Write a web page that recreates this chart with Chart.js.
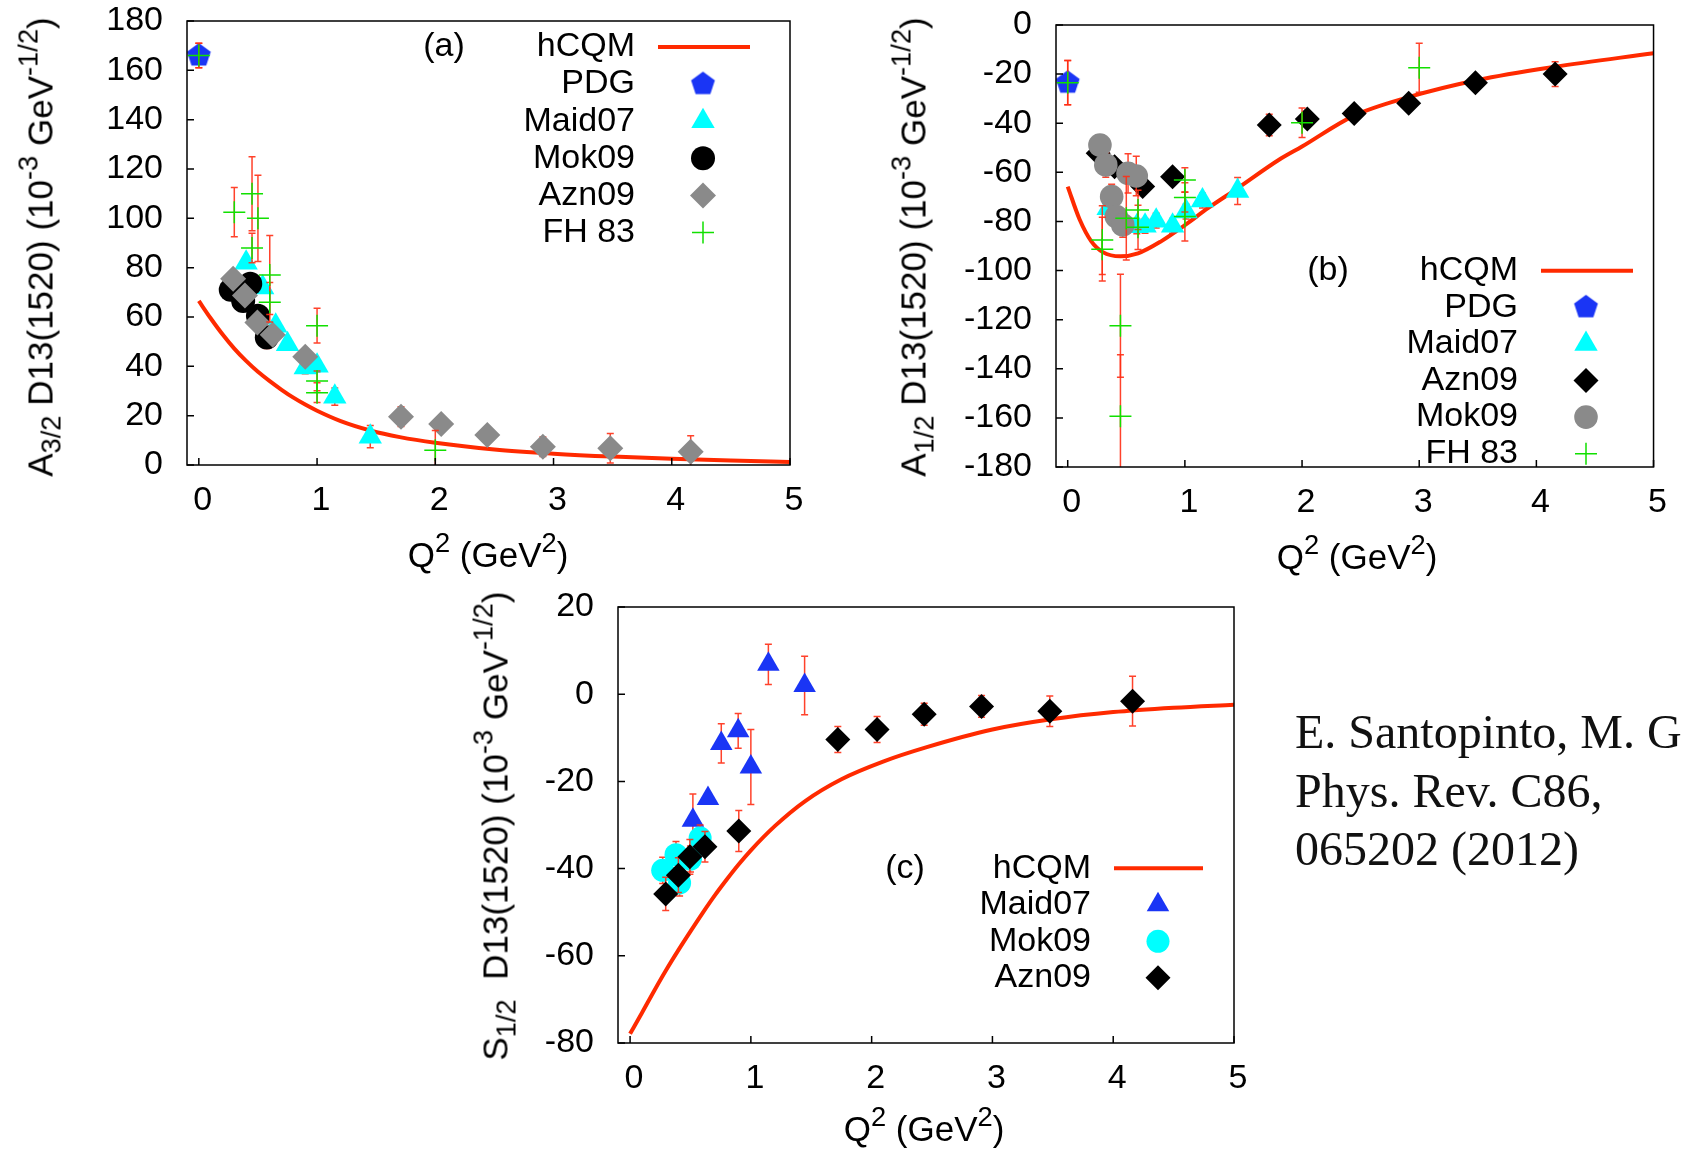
<!DOCTYPE html>
<html>
<head>
<meta charset="utf-8">
<title>D13(1520) helicity amplitudes</title>
<script src="https://cdn.jsdelivr.net/npm/chart.js"></script>
<style>
  html, body { margin: 0; padding: 0; background: #fff; }
  body { width: 1682px; height: 1149px; position: relative; overflow: hidden;
         font-family: 'Liberation Sans', Arial, sans-serif; color: #000; }
  canvas.panel { position: absolute; left: 0; top: -100px; }
  .ytitle, .xtitle { position: absolute; white-space: nowrap; font-size: 35px; line-height: 35px; }
  .ytitle { transform: translate(-50%, -50%) rotate(-90deg); }
  .xtitle { transform: translate(-50%, -50%); }
  sup, sub { font-size: 0.78em; line-height: 0; }
  sup { vertical-align: 0.55em; }
  sub { vertical-align: -0.3em; }
  .cite { position: absolute; left: 1295px; top: 703px; white-space: nowrap;
          font-family: 'Liberation Serif', 'Times New Roman', serif; font-size: 48px; line-height: 58.5px; color: #111; }
</style>
</head>
<body>
<!-- canvases start 100px above the page so the top padding never gets overridden -->
<canvas id="panelA" class="panel" width="1682" height="1249"></canvas>
<canvas id="panelB" class="panel" width="1682" height="1249"></canvas>
<canvas id="panelC" class="panel" width="1682" height="1249"></canvas>

<div class="ytitle" style="left:40px; top:247px">A<sub>3/2</sub> D13(1520) (10<sup>-3</sup> GeV<sup>-1/2</sup>)</div>
<div class="xtitle" style="left:488px; top:554px">Q<sup>2</sup> (GeV<sup>2</sup>)</div>
<div class="ytitle" style="left:913px; top:247px">A<sub>1/2</sub> D13(1520) (10<sup>-3</sup> GeV<sup>-1/2</sup>)</div>
<div class="xtitle" style="left:1357px; top:556px">Q<sup>2</sup> (GeV<sup>2</sup>)</div>
<div class="ytitle" style="left:495px; top:826px">S<sub>1/2</sub>&nbsp;&nbsp;D13(1520) (10<sup>-3</sup> GeV<sup>-1/2</sup>)</div>
<div class="xtitle" style="left:924px; top:1128px">Q<sup>2</sup> (GeV<sup>2</sup>)</div>

<div class="cite">E. Santopinto, M. G<br>Phys. Rev. C86,<br>065202 (2012)</div>

<script>
// ---- tick values ----
const q2Ticks = [0, 1, 2, 3, 4, 5];
const a32Ticks = [0, 20, 40, 60, 80, 100, 120, 140, 160, 180];
const a12Ticks = [-180, -160, -140, -120, -100, -80, -60, -40, -20, 0];
const s12Ticks = [-80, -60, -40, -20, 0, 20];

// ---- A3/2 ----
const a32HcqmQ2 = [0, 0.1, 0.2, 0.3, 0.4, 0.5, 0.6, 0.7, 0.8, 0.9, 1.0, 1.2, 1.45, 1.7, 2.0, 2.5, 3.0, 3.5, 4.0, 4.5, 5.0];
const a32Hcqm = [66.5, 59.5, 53, 47.2, 42.2, 37.8, 34, 30.5, 27.3, 24.5, 22, 17.8, 14, 11.3, 9, 6.3, 4.6, 3.4, 2.5, 1.8, 1.2];
const a32PdgQ2 = [0];
const a32Pdg = [166];
const a32PdgErr = [5];
const a32MaidQ2 = [0.40, 0.54, 0.65, 0.75, 0.90, 1.00, 1.15, 1.45];
const a32Maid = [82, 72, 56.5, 49, 39.5, 40.2, 27.7, 11.5];
const a32MaidErr = [2, 2, 2, 2, 2.5, 2.5, 3.5, 4.5];
const a32MokQ2 = [0.27, 0.375, 0.435, 0.50, 0.575];
const a32Mok = [71, 66.5, 73.5, 60.5, 51.7];
const a32MokErr = [3, 3, 3, 4, 4.5];
const a32AznQ2 = [0.29, 0.39, 0.495, 0.625, 0.90, 1.71, 2.05, 2.44, 2.91, 3.48, 4.16];
const a32Azn = [75.5, 68.7, 57.8, 52.8, 43.9, 19.6, 16.6, 12.2, 7.4, 6.8, 5.4];
const a32AznErr = [3, 3, 3, 3, 3, 4, 2.5, 2, 4, 6, 6.5];
const a32FhQ2 = [0, 0.30, 0.45, 0.45, 0.50, 0.60, 0.60, 1.0, 1.0, 1.0, 2.0];
const a32Fh = [166, 102.5, 110, 88, 100, 77, 66, 56.5, 34.1, 29.3, 6];
const a32FhErr = [5, 10, 15, 6, 17.5, 16, 8, 7, 4, 4, 8];

// ---- A1/2 ----
const a12HcqmQ2 = [0, 0.1, 0.2, 0.3, 0.45, 0.6, 0.8, 1.0, 1.2, 1.45, 1.8, 2.0, 2.44, 2.9, 3.5, 4.16, 5.0];
const a12Hcqm = [-65.8, -79, -88, -92.5, -94.2, -93, -88, -81.5, -74.5, -66.5, -55, -49.5, -37, -29.5, -22.4, -17, -11.5];
const a12PdgQ2 = [0];
const a12Pdg = [-23.5];
const a12PdgErr = [9];
const a12MaidQ2 = [0.345, 0.59, 0.66, 0.755, 0.895, 1.01, 1.15, 1.45];
const a12Maid = [-74.6, -82, -81.8, -79.7, -81.8, -76, -71.5, -67.6];
const a12MaidErr = [3, 3, 3, 3, 3, 3, 3, 5.5];
const a12AznQ2 = [0.26, 0.40, 0.64, 0.895, 1.72, 2.045, 2.445, 2.91, 3.48, 4.16];
const a12Azn = [-52.2, -57.7, -65.8, -61.8, -40.7, -38.3, -36, -31.9, -23.5, -20];
const a12AznErr = [3, 3, 3, 3, 4.4, 3, 2, 2, 2, 5];
const a12MokQ2 = [0.275, 0.325, 0.375, 0.415, 0.47, 0.515, 0.585];
const a12Mok = [-48.9, -57, -69.9, -78, -81.4, -60.4, -61.5];
const a12MokErr = [2, 5, 5, 5, 5, 8, 8];
const a12FhQ2 = [0, 0.295, 0.295, 0.45, 0.45, 0.50, 0.60, 0.60, 1.0, 1.0, 1.0, 2.0, 3.0];
const a12Fh = [-23.5, -87.6, -91.3, -122.5, -159.3, -78.7, -75.3, -82.4, -63.1, -70.2, -78, -39.8, -17.4];
const a12FhErr = [9, 14, 13, 21, 25, 17, 8, 9, 5, 6, 10, 6, 10];

// ---- S1/2 ----
const s12HcqmQ2 = [0, 0.1, 0.2, 0.3, 0.4, 0.5, 0.6, 0.7, 0.8, 0.9, 1.0, 1.2, 1.45, 1.75, 2.1, 2.45, 3.0, 3.5, 4.0, 4.5, 5.0];
const s12Hcqm = [-77.9, -73, -68, -63.2, -58.7, -54.4, -50.2, -46.2, -42.5, -39, -35.8, -30.2, -24.5, -19.5, -15.4, -12.2, -8.1, -5.7, -4.1, -3.1, -2.4];
const s12MaidQ2 = [0.52, 0.645, 0.755, 0.895, 1.0, 1.145, 1.445];
const s12Maid = [-28.9, -23.9, -11.3, -8.4, -16.7, 6.85, 2.0];
const s12MaidErr = [6, 1, 4.5, 4, 8.6, 4.6, 6.7];
const s12MokQ2 = [0.27, 0.38, 0.41, 0.50, 0.58];
const s12Mok = [-40.4, -36.8, -43.3, -37.8, -33];
const s12MokErr = [3, 3, 3, 3, 3];
const s12AznQ2 = [0.295, 0.40, 0.495, 0.62, 0.90, 1.72, 2.045, 2.435, 2.91, 3.475, 4.16];
const s12Azn = [-45.8, -41.5, -37.3, -35, -31.4, -10.4, -8.1, -4.6, -2.8, -3.9, -1.6];
const s12AznErr = [3.8, 4, 4, 3.5, 4.7, 3, 3, 2.5, 2.5, 3.5, 5.7];

// ---- styling ----
const RED = '#ff2a00';
const ERR_RED = 'rgba(255, 45, 20, 0.9)';
const BLUE = '#1a35f5';
const CYAN = '#00ffff';
const GRAY = '#8a8a8a';
const GREEN = '#11e000';
const CANVAS_W = 1682, CANVAS_H = 1249, SHIFT = 100;
const Y_AXIS_W = 150, X_AXIS_H = 100;
const FONT = "'Liberation Sans', Arial, sans-serif";

Chart.defaults.font.family = FONT;
Chart.defaults.color = '#000';

// gnuplot style pentagon marker
function pentagon(color, r) {
  const c = document.createElement('canvas');
  const s = Math.ceil(2 * r + 4);
  c.width = s; c.height = s;
  const g = c.getContext('2d');
  g.fillStyle = color;
  g.beginPath();
  for (let k = 0; k < 5; k++) {
    const ang = -Math.PI / 2 + k * 2 * Math.PI / 5;
    const px = s / 2 + r * Math.cos(ang), py = s / 2 + r * Math.sin(ang);
    k ? g.lineTo(px, py) : g.moveTo(px, py);
  }
  g.closePath();
  g.fill();
  return c;
}

function pts(xs, ys) {
  return xs.map((x, i) => ({ x: x, y: ys[i] }));
}

function curve(xs, ys) {
  return { label: 'hCQM', data: pts(xs, ys), showLine: true, borderColor: RED, borderWidth: 4,
           pointRadius: 0, cubicInterpolationMode: 'monotone', isCurve: true };
}

function marks(label, xs, ys, errs, style, color, radius) {
  const cross = style === 'cross';
  return { label: label, data: pts(xs, ys), errors: errs, showLine: false,
           pointStyle: style, pointRadius: radius,
           pointBackgroundColor: color, pointBorderColor: color,
           pointBorderWidth: cross ? 1.5 : 0 };
}

// vertical error bars with small caps, drawn under each dataset's markers
const errorBars = {
  id: 'errorBars',
  beforeDatasetDraw(chart, args) {
    const ds = chart.data.datasets[args.index];
    if (!ds.errors) return;
    const { ctx, chartArea: a } = chart;
    const x = chart.scales.x, y = chart.scales.y;
    ctx.save();
    ctx.beginPath();
    ctx.rect(a.left, a.top, a.right - a.left, a.bottom - a.top);
    ctx.clip();
    ctx.strokeStyle = ERR_RED;
    ctx.lineWidth = 1.5;
    ds.data.forEach((p, i) => {
      const e = ds.errors[i];
      if (!e) return;
      const px = x.getPixelForValue(p.x);
      const y1 = y.getPixelForValue(p.y + e), y2 = y.getPixelForValue(p.y - e);
      ctx.beginPath();
      ctx.moveTo(px, y1); ctx.lineTo(px, y2);
      ctx.moveTo(px - 3.5, y1); ctx.lineTo(px + 3.5, y1);
      ctx.moveTo(px - 3.5, y2); ctx.lineTo(px + 3.5, y2);
      ctx.stroke();
    });
    ctx.restore();
  }
};

// border, inward ticks and the key
const frameAndKey = {
  id: 'frameAndKey',
  afterDraw(chart, args, opts) {
    const { ctx, chartArea: a } = chart;
    const x = chart.scales.x, y = chart.scales.y;
    ctx.save();
    ctx.strokeStyle = '#000';
    ctx.lineWidth = 1.5;
    ctx.strokeRect(a.left, a.top, a.right - a.left, a.bottom - a.top);
    ctx.beginPath();
    x.ticks.forEach(t => {
      const px = x.getPixelForValue(t.value);
      ctx.moveTo(px, a.bottom); ctx.lineTo(px, a.bottom - 7);
    });
    y.ticks.forEach(t => {
      const py = y.getPixelForValue(t.value);
      ctx.moveTo(a.left, py); ctx.lineTo(a.left + 7, py);
    });
    ctx.stroke();

    // key rows are given in page coordinates
    ctx.translate(0, SHIFT);
    ctx.font = '34px ' + FONT;
    ctx.textBaseline = 'middle';
    ctx.fillStyle = '#000';
    ctx.textAlign = 'center';
    ctx.fillText(opts.tag, opts.tagX, opts.rowY);
    chart.data.datasets.forEach((ds, i) => {
      const ry = opts.rowY + i * opts.rowH;
      ctx.fillStyle = '#000';
      ctx.textAlign = 'right';
      ctx.fillText(ds.label, opts.textX, ry);
      if (ds.isCurve) {
        ctx.strokeStyle = ds.borderColor;
        ctx.lineWidth = ds.borderWidth;
        ctx.beginPath();
        ctx.moveTo(opts.lineX1, ry); ctx.lineTo(opts.lineX2, ry);
        ctx.stroke();
      } else {
        const o = chart.getDatasetMeta(i).data[0].options;
        ctx.fillStyle = o.backgroundColor;
        ctx.strokeStyle = o.borderColor;
        ctx.lineWidth = o.borderWidth;
        Chart.helpers.drawPoint(ctx, o, opts.markX, ry);
      }
    });
    ctx.restore();
  }
};

function makePanel(id, frame, yMin, yMax, yTicks, datasets, key) {
  datasets.forEach((d, i) => { d.order = datasets.length - i; });
  return new Chart(document.getElementById(id), {
    type: 'scatter',
    data: { datasets: datasets },
    options: {
      responsive: false,
      animation: false,
      events: [],
      layout: {
        padding: {
          left: frame.left - Y_AXIS_W,
          top: frame.top + SHIFT,
          right: CANVAS_W - frame.right,
          bottom: CANVAS_H - SHIFT - frame.bottom - X_AXIS_H
        }
      },
      scales: {
        x: {
          type: 'linear', min: -0.1, max: 5,
          grid: { display: false, drawTicks: false }, border: { display: false },
          afterBuildTicks: s => { s.ticks = q2Ticks.map(v => ({ value: v })); },
          afterFit: s => { s.height = X_AXIS_H; },
          ticks: { padding: 19, labelOffset: 4, autoSkip: false, maxRotation: 0, color: '#000',
                   font: { size: 34, lineHeight: 1 } }
        },
        y: {
          type: 'linear', min: yMin, max: yMax,
          grid: { display: false, drawTicks: false }, border: { display: false },
          afterBuildTicks: s => { s.ticks = yTicks.map(v => ({ value: v })); },
          afterFit: s => { s.width = Y_AXIS_W; },
          ticks: { padding: 24, autoSkip: false, color: '#000',
                   font: { size: 34, lineHeight: 1 } }
        }
      },
      plugins: {
        legend: { display: false },
        tooltip: { enabled: false },
        frameAndKey: key
      }
    },
    plugins: [errorBars, frameAndKey]
  });
}

makePanel('panelA', { left: 187, top: 21, right: 790, bottom: 465 }, 0, 180, a32Ticks, [
  curve(a32HcqmQ2, a32Hcqm),
  marks('PDG', a32PdgQ2, a32Pdg, a32PdgErr, pentagon(BLUE, 12.5), BLUE, 12),
  marks('Maid07', a32MaidQ2, a32Maid, a32MaidErr, 'triangle', CYAN, 13.5),
  marks('Mok09', a32MokQ2, a32Mok, a32MokErr, 'circle', '#000', 12),
  marks('Azn09', a32AznQ2, a32Azn, a32AznErr, 'rectRot', GRAY, 13),
  marks('FH 83', a32FhQ2, a32Fh, a32FhErr, 'cross', GREEN, 11)
], { tag: '(a)', tagX: 444, textX: 635, markX: 703, lineX1: 658, lineX2: 750, rowY: 47, rowH: 37.1 });

makePanel('panelB', { left: 1056, top: 25, right: 1658, bottom: 467 }, -180, 0, a12Ticks, [
  curve(a12HcqmQ2, a12Hcqm),
  marks('PDG', a12PdgQ2, a12Pdg, a12PdgErr, pentagon(BLUE, 12.5), BLUE, 12),
  marks('Maid07', a12MaidQ2, a12Maid, a12MaidErr, 'triangle', CYAN, 13.5),
  marks('Azn09', a12AznQ2, a12Azn, a12AznErr, 'rectRot', '#000', 12.5),
  marks('Mok09', a12MokQ2, a12Mok, a12MokErr, 'circle', GRAY, 11.8),
  marks('FH 83', a12FhQ2, a12Fh, a12FhErr, 'cross', GREEN, 11)
], { tag: '(b)', tagX: 1328, textX: 1518, markX: 1586, lineX1: 1541, lineX2: 1633, rowY: 270.7, rowH: 36.6 });

makePanel('panelC', { left: 618, top: 607, right: 1234, bottom: 1043 }, -80, 20, s12Ticks, [
  curve(s12HcqmQ2, s12Hcqm),
  marks('Maid07', s12MaidQ2, s12Maid, s12MaidErr, 'triangle', BLUE, 13),
  marks('Mok09', s12MokQ2, s12Mok, s12MokErr, 'circle', CYAN, 11.5),
  marks('Azn09', s12AznQ2, s12Azn, s12AznErr, 'rectRot', '#000', 12.5)
], { tag: '(c)', tagX: 905, textX: 1091, markX: 1158, lineX1: 1114, lineX2: 1203, rowY: 868.3, rowH: 36.5 });
</script>
</body>
</html>
